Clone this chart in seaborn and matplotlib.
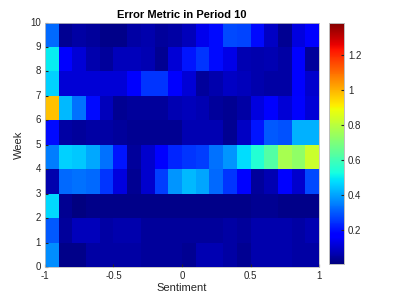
import numpy as np
import pandas as pd
import matplotlib
matplotlib.use("Agg")
import matplotlib.pyplot as plt
import seaborn as sns
from matplotlib.ticker import FormatStrFormatter

# ==========================================
# data (rows = week 0..9, cols = sentiment bins -1..1 step 0.1)
# ==========================================
sentiment_edges = [-1, -0.5, 0, 0.5, 1]
week_ticks = list(range(0, 11))
sentiment_bins = [f"{-0.95 + 0.1 * i:.2f}" for i in range(20)]
weeks = list(range(10))

week0 = [0.37, 0.02, 0.02, 0.05, 0.05, 0.05, 0.05, 0.04, 0.04, 0.04,
         0.03, 0.07, 0.07, 0.05, 0.03, 0.06, 0.06, 0.06, 0.05, 0.05]
week1 = [0.30, 0.04, 0.08, 0.08, 0.05, 0.06, 0.06, 0.04, 0.04, 0.04,
         0.04, 0.04, 0.04, 0.05, 0.04, 0.06, 0.06, 0.06, 0.05, 0.07]
week2 = [0.47, 0.03, 0.01, 0.02, 0.02, 0.02, 0.02, 0.02, 0.02, 0.02,
         0.02, 0.02, 0.02, 0.02, 0.02, 0.03, 0.03, 0.02, 0.02, 0.02]
week3 = [0.06, 0.32, 0.33, 0.32, 0.25, 0.12, 0.03, 0.10, 0.26, 0.38,
         0.43, 0.40, 0.32, 0.25, 0.18, 0.04, 0.07, 0.18, 0.10, 0.28]
week4 = [0.35, 0.46, 0.45, 0.41, 0.33, 0.21, 0.04, 0.10, 0.17, 0.23,
         0.25, 0.26, 0.33, 0.38, 0.48, 0.55, 0.63, 0.77, 0.73, 0.83]
week5 = [0.19, 0.05, 0.04, 0.05, 0.05, 0.04, 0.03, 0.03, 0.03, 0.03,
         0.07, 0.07, 0.07, 0.03, 0.09, 0.21, 0.30, 0.29, 0.42, 0.42]
week6 = [0.98, 0.43, 0.33, 0.19, 0.08, 0.03, 0.04, 0.04, 0.04, 0.07,
         0.08, 0.07, 0.04, 0.03, 0.05, 0.12, 0.17, 0.11, 0.18, 0.11]
week7 = [0.46, 0.11, 0.11, 0.11, 0.11, 0.11, 0.17, 0.25, 0.25, 0.17,
         0.11, 0.04, 0.06, 0.09, 0.08, 0.06, 0.05, 0.05, 0.17, 0.10]
week8 = [0.50, 0.17, 0.11, 0.06, 0.04, 0.08, 0.08, 0.07, 0.03, 0.11,
         0.21, 0.25, 0.19, 0.13, 0.07, 0.06, 0.07, 0.05, 0.17, 0.04]
week9 = [0.32, 0.03, 0.05, 0.04, 0.02, 0.02, 0.05, 0.06, 0.04, 0.05,
         0.08, 0.14, 0.19, 0.28, 0.27, 0.19, 0.09, 0.03, 0.12, 0.17]

clim = (0.006, 1.385)
cbar_ticks = [0.2, 0.4, 0.6, 0.8, 1.0, 1.2]

df = pd.DataFrame([week0, week1, week2, week3, week4,
                   week5, week6, week7, week8, week9],
                  index=weeks, columns=sentiment_bins)

# ==========================================
# plot
# ==========================================
plt.rcParams["font.family"] = ["Liberation Sans", "DejaVu Sans"]
txt = "#262626"

fig = plt.figure(figsize=(3.97, 2.97), dpi=100)
ax = fig.add_axes([0.113, 0.101, 0.691, 0.823])
cax = fig.add_axes([0.829, 0.111, 0.037, 0.813])

sns.heatmap(df, cmap="jet", vmin=clim[0], vmax=clim[1], ax=ax,
            cbar_ax=cax, cbar_kws={"ticks": cbar_ticks})
ax.invert_yaxis()

ax.set_xticks(np.linspace(0, 20, len(sentiment_edges)))
ax.set_xticklabels([f"{v:g}" for v in sentiment_edges], rotation=0)
ax.set_yticks(week_ticks)
ax.set_yticklabels([str(w) for w in week_ticks], rotation=0)
ax.tick_params(direction="in", length=2, labelsize=7, colors=txt,
               labelcolor=txt, pad=3)
for s in ax.spines.values():
    s.set_visible(True)
    s.set_color("#bfbfbf")
    s.set_linewidth(0.6)

ax.set_xlabel("Sentiment", fontsize=8, color=txt, labelpad=1)
ax.set_ylabel("Week", fontsize=8, color=txt, labelpad=4)
ax.set_title("Error Metric in Period 10", fontsize=8, fontweight="bold",
             pad=3)

cax.yaxis.set_major_formatter(FormatStrFormatter("%g"))
cax.tick_params(direction="in", length=2, labelsize=7, labelcolor=txt,
                colors=txt, pad=3)
for s in cax.spines.values():
    s.set_visible(True)
    s.set_color("#bfbfbf")
    s.set_linewidth(0.6)

fig.savefig("out.png", dpi=100)
